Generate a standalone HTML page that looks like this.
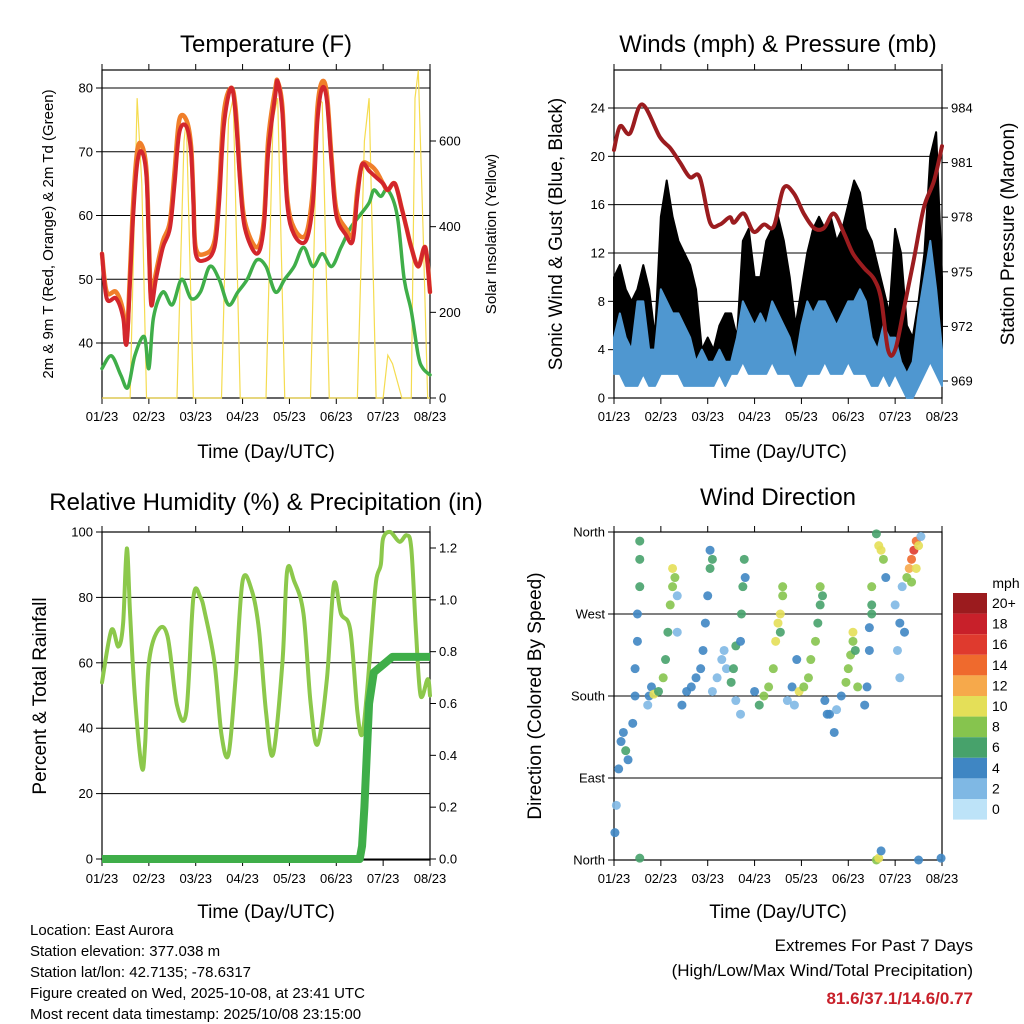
<!DOCTYPE html>
<html><head><meta charset="utf-8"><style>
body{margin:0;background:#fff}
svg{display:block;font-family:"Liberation Sans",sans-serif}
</style></head><body>
<svg id="s" width="1024" height="1024" viewBox="0 0 1024 1024" xmlns="http://www.w3.org/2000/svg">
<g id="g"></g>
<text x="266" y="52" font-size="24" text-anchor="middle">Temperature (F)</text>
<text x="778" y="52" font-size="24" text-anchor="middle">Winds (mph) &amp; Pressure (mb)</text>
<text x="266" y="510" font-size="24" text-anchor="middle">Relative Humidity (%) &amp; Precipitation (in)</text>
<text x="778" y="505" font-size="24" text-anchor="middle">Wind Direction</text>
<text x="266" y="458" font-size="19" text-anchor="middle">Time (Day/UTC)</text>
<text x="778" y="458" font-size="19" text-anchor="middle">Time (Day/UTC)</text>
<text x="266" y="918" font-size="19" text-anchor="middle">Time (Day/UTC)</text>
<text x="778" y="918" font-size="19" text-anchor="middle">Time (Day/UTC)</text>
<text transform="translate(53,234) rotate(-90)" font-size="15" text-anchor="middle">2m &amp; 9m T (Red, Orange) &amp; 2m Td (Green)</text>
<text transform="translate(496,234) rotate(-90)" font-size="15" text-anchor="middle">Solar Insolation (Yellow)</text>
<text transform="translate(562,234) rotate(-90)" font-size="19" text-anchor="middle">Sonic Wind &amp; Gust (Blue, Black)</text>
<text transform="translate(1014,234) rotate(-90)" font-size="19" text-anchor="middle">Station Pressure (Maroon)</text>
<text transform="translate(46,696) rotate(-90)" font-size="19" text-anchor="middle">Percent &amp; Total Rainfall</text>
<text transform="translate(541,696) rotate(-90)" font-size="19" text-anchor="middle">Direction (Colored By Speed)</text>
<g font-size="15">
<text x="30" y="935">Location: East Aurora</text>
<text x="30" y="956">Station elevation: 377.038 m</text>
<text x="30" y="977">Station lat/lon: 42.7135; -78.6317</text>
<text x="30" y="998">Figure created on Wed, 2025-10-08, at 23:41 UTC</text>
<text x="30" y="1019">Most recent data timestamp: 2025/10/08 23:15:00</text>
</g>
<text x="973" y="951" font-size="17" text-anchor="end">Extremes For Past 7 Days</text>
<text x="973" y="976" font-size="17" text-anchor="end">(High/Low/Max Wind/Total Precipitation)</text>
<text x="973" y="1004" font-size="17" font-weight="bold" fill="#c8202a" text-anchor="end">81.6/37.1/14.6/0.77</text>
</svg>
<script>
const xLabels=["01/23","02/23","03/23","04/23","05/23","06/23","07/23","08/23"];
const tDays=[0,0.1,0.3,0.45,0.5,0.55,0.65,0.75,0.85,0.95,1.0,1.05,1.15,1.3,1.45,1.55,1.65,1.8,1.9,1.95,2.0,2.2,2.4,2.5,2.6,2.75,2.85,2.95,3.05,3.3,3.45,3.55,3.7,3.75,3.85,3.95,4.1,4.35,4.5,4.6,4.7,4.8,4.9,5.0,5.2,5.35,5.45,5.55,5.7,5.85,6.0,6.1,6.25,6.4,6.5,6.6,6.75,6.9,7.0];
const tempRed=[54,47,47,44,40,42,58,68,70,66,55,46,50,55,58,65,73,74,70,62,54,53,55,62,74,80,76,65,58,54,58,70,79,81,76,62,57,56,62,75,80,78,68,60,57,56,63,68,67,66,65,64,65,61,58,55,52,55,48];
const tempOrange=[54,48,48,45,41,43,60,70,71,67,56,47,51,56,59,67,75,75,71,63,55,54,56,64,76,80,77,66,59,55,59,72,80,81,77,63,58,57,64,77,81,79,69,61,58,57,64,68,68,67,65,64,65,61,58,55,52,55,48];
const tdDays=[0,0.2,0.4,0.55,0.7,0.9,1.0,1.1,1.3,1.5,1.7,1.9,2.1,2.3,2.5,2.7,2.9,3.1,3.3,3.5,3.7,3.9,4.1,4.3,4.5,4.7,4.9,5.1,5.3,5.5,5.7,5.8,5.95,6.1,6.3,6.45,6.6,6.75,6.85,7.0];
const dewGreen=[36,38,35,33,38,41,36,44,48,46,50,47,48,52,50,46,48,50,53,52,48,50,52,55,52,54,52,55,58,60,62,64,63,64,60,50,45,38,36,35];
const solarDays=[0,0.6,0.75,0.85,0.95,1.6,1.75,1.8,1.95,2.55,2.7,2.8,2.95,3.5,3.65,3.75,3.9,4.45,4.6,4.7,4.85,5.45,5.6,5.7,5.85,6.0,6.1,6.2,6.4,6.6,6.68,6.75,6.85,6.95,7.0];
const solar=[0,0,700,500,0,0,600,650,0,0,650,700,0,0,650,700,0,0,700,690,0,0,600,700,0,0,100,80,0,0,700,765,400,0,0];
const windHi=[5,7,5,4,8,8,4,4, 9,8,7,7,6,5,3,4, 3,3,4,3,3,5,8,7, 6,7,6,8,7,6,5,3, 6,8,7,8,8,7,6,7, 8,8,9,8,5,4,6,5, 5,3,2,3,7,10,13,9, 4];
const windLo=[2,2,1,1,1,2,1,1, 2,2,2,2,1,1,1,1, 1,1,2,1,2,2,3,2, 2,2,2,3,2,2,2,1, 1,2,2,2,3,2,2,2, 3,2,2,2,1,1,2,1, 2,1,0,0,1,2,3,2, 1];
const gustHi=[10,11,9,8,9,11,9,5, 15,18,15,13,12,11,9,4, 5,4,6,7,7,5,13,14, 10,10,13,14,15,13,10,6, 9,12,14,15,14,15,13,14, 16,18,17,14,13,11,9,7, 14,12,6,5,8,12,20,22, 10];
const pDays=[0,0.13,0.34,0.6,0.98,1.2,1.41,1.62,1.83,2.05,2.26,2.47,2.56,2.77,2.98,3.2,3.41,3.62,3.84,4.05,4.27,4.48,4.69,4.91,5.1,5.34,5.55,5.7,5.85,6.0,6.19,6.4,6.61,6.83,7.0];
const pressure=[981.7,983.0,982.6,984.2,982.4,981.8,981.0,980.2,980.2,977.7,977.6,978.0,977.7,978.2,977.2,977.6,977.5,979.6,979.3,978.2,977.4,977.4,978.2,977.1,976.0,975.2,974.6,973.5,970.7,970.7,973.0,975.7,978.5,980.0,981.9];
const rhDays=[0,0.2,0.35,0.45,0.53,0.6,0.7,0.85,0.92,1.0,1.2,1.4,1.6,1.8,1.95,2.1,2.2,2.4,2.55,2.7,2.85,3.0,3.2,3.35,3.5,3.65,3.85,3.95,4.1,4.3,4.45,4.6,4.8,4.95,5.1,5.3,5.45,5.55,5.65,5.75,5.85,5.95,6.0,6.15,6.35,6.5,6.6,6.7,6.8,6.95,7.0];
const rh=[54,70,65,72,95,75,50,28,35,60,70,68,47,45,80,80,75,60,38,32,55,85,82,70,45,32,60,88,85,75,48,35,55,84,75,70,45,38,50,68,85,90,98,100,97,99,95,70,50,55,50];
const prDays=[0,5.5,5.55,5.6,5.65,5.7,5.8,6.0,6.2,7.0];
const precip=[0,0,0.05,0.2,0.4,0.6,0.72,0.75,0.78,0.78];
const dDay=[0.02,0.05,0.1,0.15,0.2,0.25,0.3,0.4,0.45,0.45,0.5,0.5,0.55,0.55,0.55,0.55,0.72,0.75,0.8,0.85,0.95,1.05,1.1,1.15,1.2,1.25,1.25,1.3,1.35,1.35,1.45,1.55,1.65,1.75,1.85,1.9,1.95,2.0,2.05,2.05,2.1,2.1,2.2,2.3,2.35,2.4,2.5,2.55,2.6,2.7,2.72,2.75,2.78,2.8,2.6,2.7,3.0,3.1,3.2,3.3,3.4,3.45,3.5,3.55,3.6,3.6,3.55,3.7,3.8,3.9,3.85,3.95,4.05,4.15,4.2,4.3,4.35,4.4,4.4,4.45,4.5,4.55,4.6,4.75,4.7,4.85,4.95,5.0,5.05,5.1,5.1,5.15,5.2,5.35,5.4,5.45,5.5,5.5,5.5,5.45,5.6,5.65,5.7,5.75,5.8,5.6,5.65,5.7,6.0,6.05,6.1,6.1,6.2,6.15,6.25,6.3,6.35,6.4,6.45,6.5,6.45,6.35,6.5,6.55,6.98];
const dDeg=[30,60,100,130,140,120,110,150,180,210,240,270,300,330,350,2,170,180,190,182,185,200,220,250,280,300,320,310,290,250,170,185,190,200,210,230,260,290,320,340,330,185,200,220,230,210,195,210,235,240,270,300,330,310,175,160,185,170,180,190,210,240,260,270,290,300,250,175,190,220,170,185,190,200,220,240,260,280,300,290,175,160,160,165,140,180,195,210,225,240,250,230,190,170,190,230,280,270,300,255,358,345,340,330,310,0,2,10,280,230,200,260,250,300,310,320,330,340,350,345,320,305,0,355,2];
const dSpd=[4,2,4,4,4,6,4,4,4,4,4,4,6,6,6,6,2,4,4,10,6,8,6,6,8,8,10,8,2,2,4,4,4,4,4,4,4,4,6,4,6,2,2,2,2,2,6,6,6,4,6,6,6,4,2,2,4,6,8,8,8,10,10,10,8,8,6,2,4,4,2,10,8,8,8,8,6,6,8,6,4,4,4,2,4,4,8,8,8,8,10,6,8,4,4,4,6,6,8,4,6,10,10,8,4,8,10,4,2,2,2,4,4,2,8,12,14,16,14,10,10,8,4,2,4];
const barLabels=["20+","18","16","14","12","10","8","6","4","2","0"];
const barColors=["#9b1b1e","#c8202a","#df3a2e","#ef6a2d","#f6a94b","#e4df58","#86c44e","#47a26b","#3f86c3","#7fb8e4","#bde3f8"];

const NS="http://www.w3.org/2000/svg",G=document.getElementById('g');
function mk(t,a,p){const e=document.createElementNS(NS,t);for(const k in a)e.setAttribute(k,a[k]);(p||G).appendChild(e);return e;}
function lin(d0,d1,r0,r1){return v=>r0+(v-d0)/(d1-d0)*(r1-r0);}
function smoothPath(P){let d='M'+P[0][0]+','+P[0][1];
  for(let i=0;i<P.length-1;i++){const p0=P[i-1]||P[i],p1=P[i],p2=P[i+1],p3=P[i+2]||P[i+1];
    d+=' C'+(p1[0]+(p2[0]-p0[0])/6)+','+(p1[1]+(p2[1]-p0[1])/6)+' '+(p2[0]-(p3[0]-p1[0])/6)+','+(p2[1]-(p3[1]-p1[1])/6)+' '+p2[0]+','+p2[1];}
  return d;}
function frame(x0,y0,nm){
  const g=mk('g',{});
  
  
  mk('rect',{x:x0,y:y0,width:328,height:328,fill:'none',stroke:'#000','stroke-width':1.2},g);
  const fx=lin(0,7,x0,x0+328);
  xLabels.forEach((l,i)=>{const x=fx(i);
    mk('line',{x1:x,x2:x,y1:y0+328,y2:y0+334,stroke:'#000'},g);
    mk('line',{x1:x,x2:x,y1:y0,y2:y0-6,stroke:'#000'},g);
    const t=mk('text',{x:x,y:y0+351,'font-size':13,'text-anchor':'middle'},g);t.textContent=l;
    
    
  });
  return {g,fx};
}
function yAxis(g,vals,fy,x,side,labels){
  vals.forEach((v,i)=>{const y=fy(v);
    mk('line',{x1:x,x2:x+(side<0?-6:6),y1:y,y2:y,stroke:'#000'},g);
    const t=mk('text',{x:x+(side<0?-9:9),y:y+4.5,'font-size':13,'text-anchor':side<0?'end':'start'},g);
    t.textContent=labels?labels[i]:v;
    
    
  });
}
function grid(g,vals,fy,x0){vals.forEach(v=>mk('line',{x1:x0,x2:x0+328,y1:fy(v),y2:fy(v),stroke:'#000','stroke-width':1},g));}
function line(xs,ys,fx,fy,col,w,nm){const P=xs.map((d,i)=>[+fx(d).toFixed(1),+fy(ys[i]).toFixed(1)]);
  const e=mk('path',{d:smoothPath(P),fill:'none',stroke:col,'stroke-width':w,'stroke-linejoin':'round','stroke-linecap':'round'});
  
  return e;}
function band(xs,lo,hi,fx,fy,col,nm){const p=xs.map((d,i)=>fx(d)+','+fy(hi[i])).concat(xs.map((d,i)=>fx(d)+','+fy(lo[i])).reverse()).join(' ');
  const e=mk('polygon',{points:p,fill:col,stroke:col,'stroke-width':2,'stroke-linejoin':'round'});
  
  }

// Panel 1 temperature
let A=frame(102,70,'temperature');
let fyT=lin(40,80,343,88), fyS=lin(0,600,398,141);
grid(A.g,[40,50,60,70,80],fyT,102);
yAxis(A.g,[40,50,60,70,80],fyT,102,-1);
yAxis(A.g,[0,200,400,600],fyS,430,1);
const sp=solarDays.map((d,i)=>A.fx(d)+','+fyS(solar[i])).join(' ');
let so=mk('polyline',{points:sp,fill:'none',stroke:'#f5dc50','stroke-width':1.2});


line(tdDays,dewGreen,A.fx,fyT,'#3fae49',3.5,'dewpoint-series');
line(tDays,tempOrange,A.fx,fyT,'#f07f2a',4.5,'temp-9m-series');
line(tDays,tempRed,A.fx,fyT,'#d3262c',4,'temp-2m-series');

// Panel 2 winds
let B=frame(614,70,'winds');
let fyW=lin(0,24,398,108), fyP=lin(969,984,381,108);
grid(B.g,[0,4,8,12,16,20,24],fyW,614);
yAxis(B.g,[0,4,8,12,16,20,24],fyW,614,-1);
yAxis(B.g,[969,972,975,978,981,984],fyP,942,1);
const wDays=windHi.map((_,i)=>i*7/(windHi.length-1));
band(wDays,windHi,gustHi,B.fx,fyW,'#000','gust-band');
band(wDays,windLo,windHi,B.fx,fyW,'#4f97d0','wind-band');
line(pDays,pressure,B.fx,fyP,'#9b1c1f',4,'pressure-series');

// Panel 3 RH
let C=frame(102,532,'humidity');
let fyR=lin(0,100,859,532), fyPr=lin(0,1.2,859,548);
grid(C.g,[0,20,40,60,80,100],fyR,102);
yAxis(C.g,[0,20,40,60,80,100],fyR,102,-1);
yAxis(C.g,[0,0.2,0.4,0.6,0.8,1.0,1.2],fyPr,430,1,["0.0","0.2","0.4","0.6","0.8","1.0","1.2"]);
line(rhDays,rh,C.fx,fyR,'#8cc84b',4,'rh-series');
let pl=mk('polyline',{points:prDays.map((d,i)=>C.fx(d)+','+fyPr(precip[i])).join(' '),fill:'none',stroke:'#3fae49','stroke-width':8,'stroke-linejoin':'round'});



// Panel 4 wind direction
let D=frame(614,532,'wind-direction');
let fyD=lin(0,360,860,532);
grid(D.g,[0,90,180,270,360],fyD,614);
yAxis(D.g,[0,90,180,270,360],fyD,614,-1,["North","East","South","West","North"]);
function spdCol(s){const idx=10-Math.min(10,Math.floor(s/2));return barColors[idx];}
dDay.forEach((d,i)=>{const c=mk('circle',{cx:D.fx(d),cy:fyD(dDeg[i]),r:4.5,fill:spdCol(dSpd[i]),'fill-opacity':0.9});
  
  });
const cb=mk('g',{});


let mt=mk('text',{x:1006,y:588,'font-size':14,'text-anchor':'middle'},cb);mt.textContent='mph';
barLabels.forEach((l,i)=>{const y=593+i*20.6;
  mk('rect',{x:953,y:y,width:34,height:20.6,fill:barColors[i]},cb);
  const t=mk('text',{x:992,y:y+15,'font-size':14},cb);t.textContent=l;
  
  });
</script>
</body></html>
